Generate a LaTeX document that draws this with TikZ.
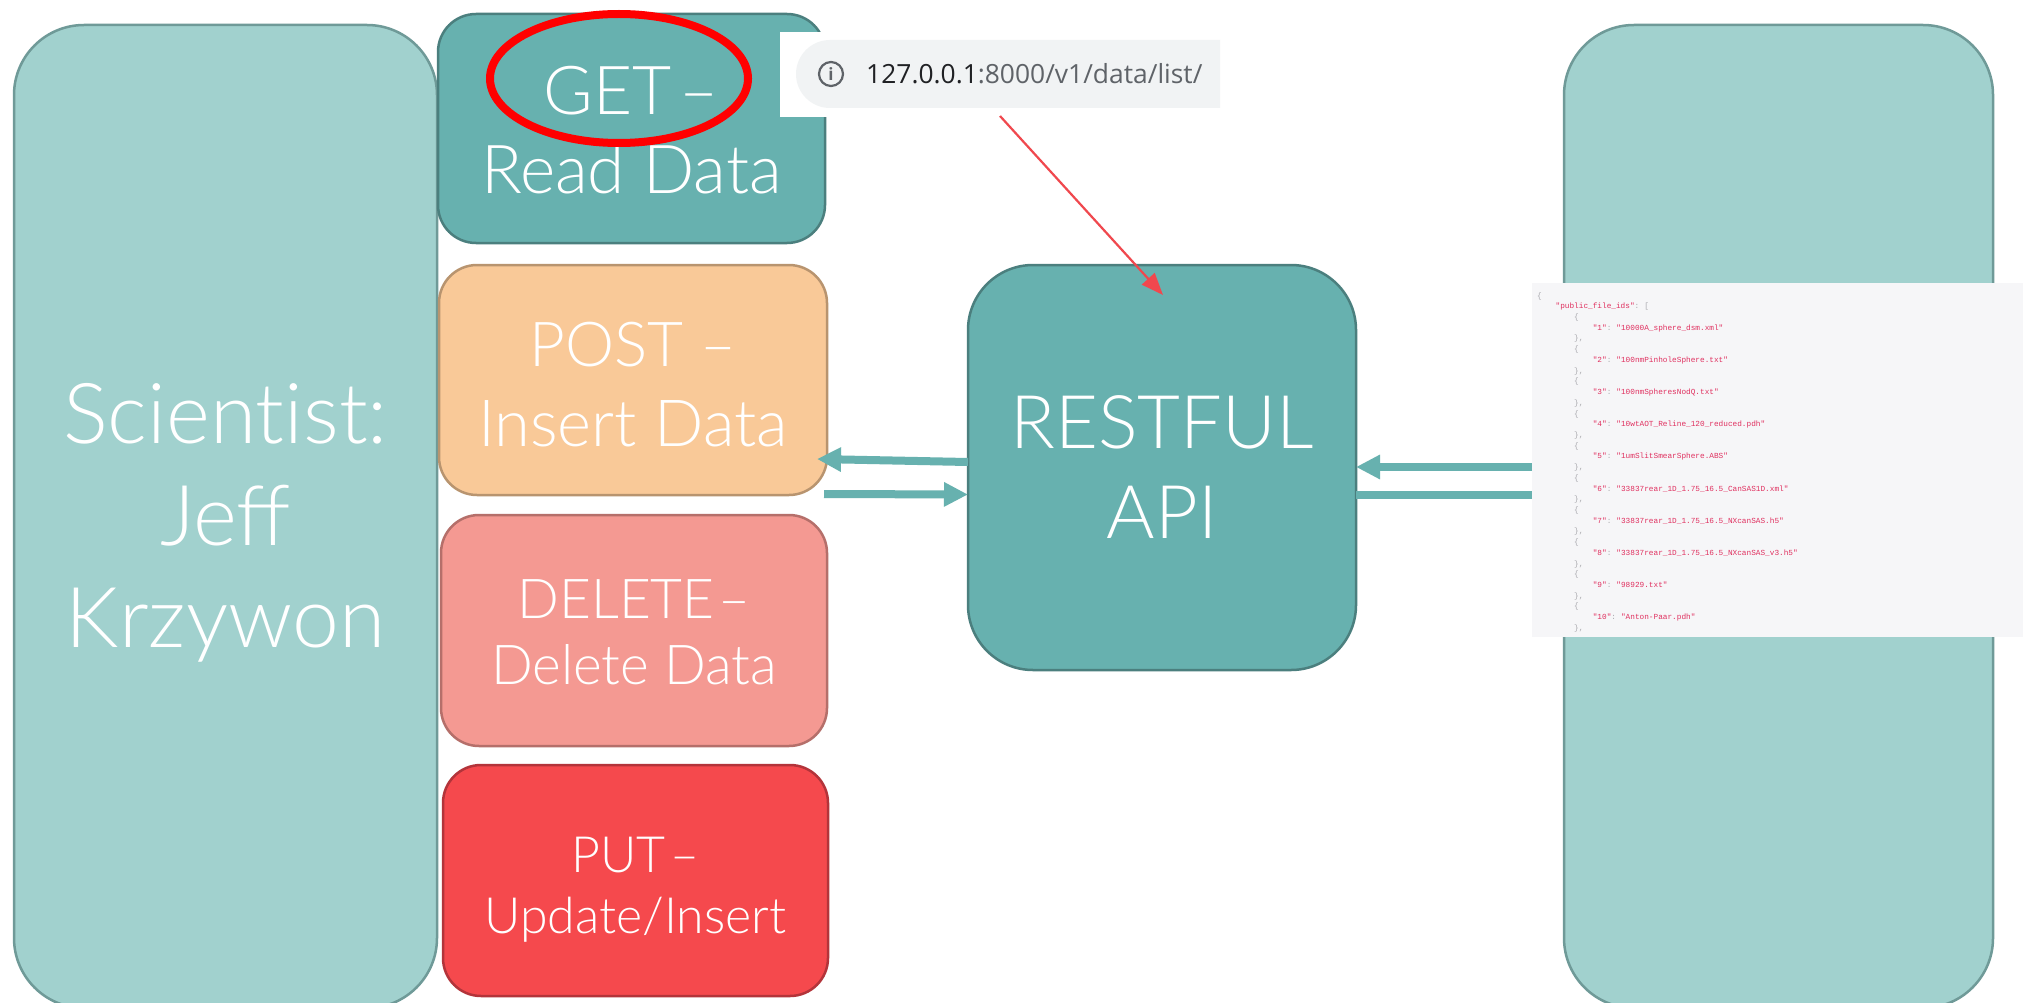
\documentclass[tikz,border=0pt]{standalone}
\usepackage{fontspec}
\setmainfont{Lato}[UprightFont=* Light,BoldFont=* Regular]
\newfontfamily\jsonfont{Liberation Mono}
\newfontfamily\urlfont{Open Sans}
\usetikzlibrary{arrows.meta,calc,shapes.geometric}
\definecolor{palefill}{HTML}{A1D1CE}
\definecolor{paleline}{HTML}{6F9A98}
\definecolor{teal}{HTML}{67B1AF}
\definecolor{tealline}{HTML}{4B7F7E}
\definecolor{postfill}{HTML}{F9C998}
\definecolor{postline}{HTML}{B8946F}
\definecolor{delfill}{HTML}{F49992}
\definecolor{delline}{HTML}{B56F6A}
\definecolor{putfill}{HTML}{F5494D}
\definecolor{putline}{HTML}{B3343A}
\definecolor{barfill}{HTML}{F1F3F4}
\definecolor{jred}{HTML}{E0305F}
\definecolor{jgrey}{HTML}{A9A9AE}
\definecolor{jbg}{HTML}{F6F6F8}
\definecolor{urlgrey}{HTML}{5F6368}
\definecolor{urldark}{HTML}{202124}
\definecolor{arrowred}{HTML}{F0484E}
\newcommand\K[1]{\textcolor{jred}{#1}}
\newlength\jw
\setlength\jw{4.65pt}
\newcommand\Kv[2]{\makebox[12\jw][l]{}\K{"#1"}\textcolor{jgrey}{:} \K{"#2"}\par}
\newcommand\Op{\makebox[8\jw][l]{}\textcolor{jgrey}{\{}\par}
\newcommand\Cl{\makebox[8\jw][l]{}\textcolor{jgrey}{\},}\par}
\tikzset{
  x=1pt,y=-1pt,
  box/.style={rectangle,draw,line width=2.5pt,inner sep=0pt,outer sep=0pt,text=white,align=center},
  flow/.style={draw=teal,line width=8pt,-{Triangle[width=23pt,length=24pt]}},
  flowplain/.style={draw=teal,line width=8pt},
}
\begin{document}
\begin{tikzpicture}
\path[use as bounding box,clip] (0,0) rectangle (2023,1003);
\fill[white] (0,0) rectangle (2023,1003);
% Side panels
\node[box,fill=palefill,draw=paleline,rounded corners=70pt,minimum width=423pt,minimum height=983pt,font=\fontsize{84}{102}\selectfont] (sci) at (225.5,516.5)
  {Scient\kern0pt ist:\\Jeff\\Krzywon\\[-100pt]};
\node[box,fill=palefill,draw=paleline,rounded corners=70pt,minimum width=429pt,minimum height=983pt] (db) at (1778.5,516.5) {};
% Verb boxes
\node[box,fill=teal,draw=tealline,rounded corners=38pt,minimum width=387pt,minimum height=229pt,font=\fontsize{67.5}{79}\selectfont] (get) at (631.5,128.5)
  {GET\kern-10pt\ --\\Read Data\\[-82pt]};
\node[box,fill=postfill,draw=postline,rounded corners=38pt,minimum width=388pt,minimum height=230pt,font=\fontsize{62}{80}\selectfont] (post) at (633,380)
  {POST --\\\fontsize{65}{80}\selectfont Insert Data\\[-89pt]};
\node[box,fill=delfill,draw=delline,rounded corners=38pt,minimum width=386pt,minimum height=231pt,font=\fontsize{55}{66}\selectfont] (del) at (634,630.5)
  {DELETE\kern-11pt\ --\\Delete Data\\[-69pt]};
\node[box,fill=putfill,draw=putline,rounded corners=38pt,minimum width=385pt,minimum height=231pt,font=\fontsize{50}{61}\selectfont] (put) at (635.5,880.5)
  {PUT\kern-8pt\ --\\Update/Insert\\[-71pt]};
% API
\node[box,fill=teal,draw=tealline,rounded corners=65pt,minimum width=388pt,minimum height=405pt,font=\fontsize{74}{90}\selectfont] (api) at (1162,467.5)
  {RESTFUL\\API};
% JSON screenshot
\node[rectangle,fill=jbg,inner sep=0pt,outer sep=0pt,minimum width=491pt,minimum height=354pt] (json) at (1777.5,460) {};
\node[anchor=north west,inner sep=0pt,outer sep=0pt,text width=480pt,align=left] (jsontext) at (1537,292.5) {%
  \jsonfont\fontsize{7.75}{10.72}\selectfont\parindent=0pt
  \textcolor{jgrey}{\{}\par
  \makebox[4\jw][l]{}\K{"public\_file\_ids"}\textcolor{jgrey}{: [}\par
  \Op\Kv{1}{10000A\_sphere\_dsm.xml}\Cl
  \Op\Kv{2}{100nmPinholeSphere.txt}\Cl
  \Op\Kv{3}{100nmSpheresNodQ.txt}\Cl
  \Op\Kv{4}{10wtAOT\_Reline\_120\_reduced.pdh}\Cl
  \Op\Kv{5}{1umSlitSmearSphere.ABS}\Cl
  \Op\Kv{6}{33837rear\_1D\_1.75\_16.5\_CanSAS1D.xml}\Cl
  \Op\Kv{7}{33837rear\_1D\_1.75\_16.5\_NXcanSAS.h5}\Cl
  \Op\Kv{8}{33837rear\_1D\_1.75\_16.5\_NXcanSAS\_v3.h5}\Cl
  \Op\Kv{9}{98929.txt}\Cl
  \Op\Kv{10}{Anton-Paar.pdh}\Cl};
% Connectors
\draw[flow] ($(api.west)+(0,-5.5)$) -- ($(post.east)+(-10,79)$);
\draw[flow] ($(post.east)+(-3,114)$) -- ($(api.west)+(0,27)$);
\draw[flow] (json.west |- 0,467) -- (api.east |- 0,467);
\draw[flowplain] (api.east |- 0,495) -- (json.west |- 0,495);
% URL bar
\fill[white] (780,32) rectangle (1220,117);
\fill[barfill] (1220,40) -- (830,40) arc[start angle=-90,end angle=-270,radius=34] -- (1220,108) -- cycle;
\node[circle,draw=urlgrey,line width=2.2pt,inner sep=0pt,minimum size=24pt,text=urlgrey] (info) at (831,74)
  {\urlfont\fontsize{17}{17}\selectfont\bfseries i};
\node[anchor=west,inner sep=0pt] (url) at (866,74)
  {\urlfont\fontsize{26.4}{30}\selectfont\textcolor{urldark}{127.0.0.1}\textcolor{urlgrey}{:8000/v1/data/list/}};
% Highlight
\node[ellipse,draw=red,line width=8pt,inner sep=0pt,outer sep=0pt,minimum width=258pt,minimum height=129pt] (ring) at (619,78.5) {};
% Red arrow
\coordinate (urltail) at (1000,116);
\coordinate (apihit) at (1163,295);
\draw[draw=arrowred,line width=2.2pt,-{Triangle[width=17pt,length=22pt]}] (urltail) -- (apihit);
\end{tikzpicture}
\end{document}
